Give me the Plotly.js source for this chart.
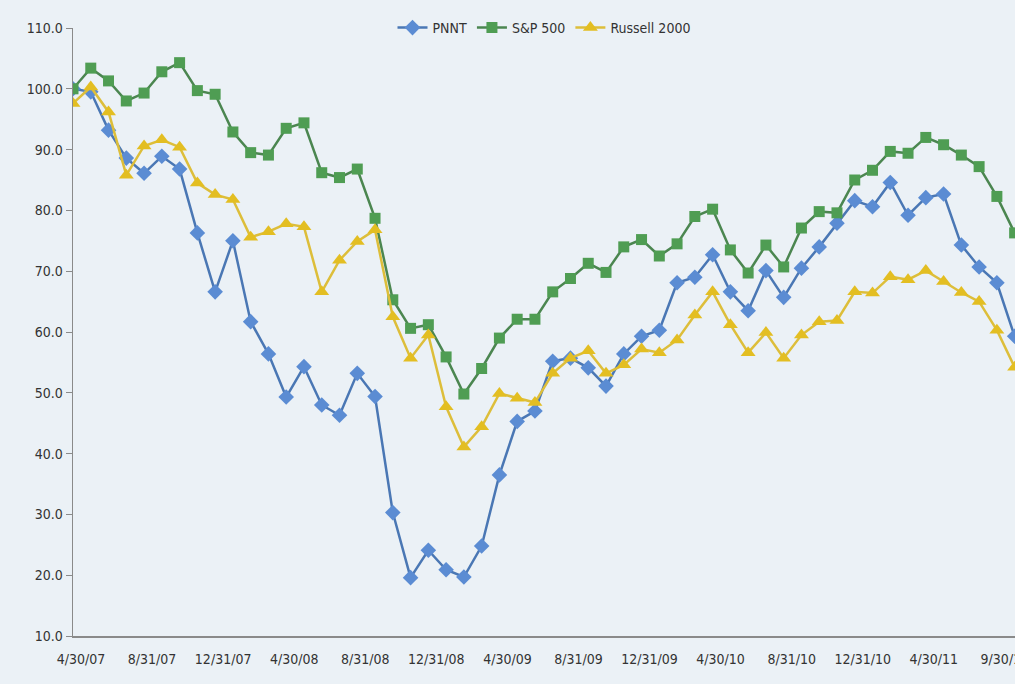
<!DOCTYPE html>
<html>
<head>
<meta charset="utf-8">
<script src="https://cdn.plot.ly/plotly-3.0.1.min.js"></script>
<style>
  html, body { margin: 0; padding: 0; background: #EBF1F6; }
  #chart { width: 1015px; height: 684px; }
</style>
</head>
<body>
<div id="chart"></div>
<script>
// Month-end dates (categories)
const dates = [
  "4/30/07","5/31/07","6/30/07","7/31/07","8/31/07","9/30/07","10/31/07","11/30/07",
  "12/31/07","1/31/08","2/29/08","3/31/08","4/30/08","5/31/08","6/30/08","7/31/08",
  "8/31/08","9/30/08","10/31/08","11/30/08","12/31/08","1/31/09","2/28/09","3/31/09",
  "4/30/09","5/31/09","6/30/09","7/31/09","8/31/09","9/30/09","10/31/09","11/30/09",
  "12/31/09","1/31/10","2/28/10","3/31/10","4/30/10","5/31/10","6/30/10","7/31/10",
  "8/31/10","9/30/10","10/31/10","11/30/10","12/31/10","1/31/11","2/28/11","3/31/11",
  "4/30/11","5/31/11","6/30/11","8/31/11","9/30/11","10/31/11"
];
const tickLabels = ["4/30/07","8/31/07","12/31/07","4/30/08","8/31/08","12/31/08","4/30/09",
  "8/31/09","12/31/09","4/30/10","8/31/10","12/31/10","4/30/11","9/30/11"];

const pnnt = [100.0, 99.5, 93.2, 88.6, 86.1, 88.9, 86.8, 76.3, 66.6, 75.0, 61.7, 56.4,
  49.3, 54.3, 48.0, 46.3, 53.2, 49.4, 30.3, 19.6, 24.1, 20.9, 19.7, 24.8,
  36.5, 45.3, 47.0, 55.2, 55.7, 54.1, 51.1, 56.4, 59.3, 60.3, 68.1, 69.0,
  72.7, 66.6, 63.5, 70.1, 65.7, 70.5, 74.0, 77.9, 81.6, 80.6, 84.6, 79.2,
  82.1, 82.7, 74.3, 70.7, 68.1, 59.3];
const sp500 = [100.0, 103.4, 101.3, 98.0, 99.3, 102.8, 104.3, 99.7, 99.1, 92.9, 89.5, 89.1,
  93.5, 94.4, 86.2, 85.4, 86.8, 78.7, 65.3, 60.6, 61.2, 55.9, 49.8, 54.0,
  59.0, 62.1, 62.1, 66.6, 68.8, 71.3, 69.8, 74.0, 75.2, 72.5, 74.5, 79.0,
  80.2, 73.5, 69.7, 74.3, 70.7, 77.1, 79.8, 79.6, 85.0, 86.6, 89.7, 89.4,
  92.0, 90.8, 89.1, 87.2, 82.3, 76.3];
const russell = [97.6, 100.3, 96.2, 85.8, 90.6, 91.6, 90.4, 84.5, 82.6, 81.8, 75.6, 76.5,
  77.8, 77.3, 66.6, 71.8, 74.9, 76.8, 62.5, 55.7, 59.5, 47.7, 41.1, 44.4,
  49.9, 49.1, 48.4, 53.2, 55.7, 56.9, 53.2, 54.6, 57.2, 56.6, 58.7, 62.8,
  66.6, 61.2, 56.6, 59.9, 55.7, 59.5, 61.7, 61.9, 66.6, 66.4, 69.1, 68.6,
  70.1, 68.3, 66.5, 65.0, 60.3, 54.2];

const FONT = "Liberation Sans Narrow, Arial Narrow, DejaVu Sans Condensed, sans-serif";

const traces = [
  {name: "PNNT", x: dates, y: pnnt, type: "scatter", mode: "lines+markers",
   line: {color: "#4A77B4", width: 2.5},
   marker: {symbol: "diamond", size: 12, color: "#5B8CD3", line: {width: 0}}},
  {name: "S&P 500", x: dates, y: sp500, type: "scatter", mode: "lines+markers",
   line: {color: "#4B8650", width: 2.5},
   marker: {symbol: "square", size: 11, color: "#4F9D53", line: {width: 0}}},
  {name: "Russell 2000", x: dates, y: russell, type: "scatter", mode: "lines+markers",
   line: {color: "#DDBE3A", width: 2.5},
   marker: {symbol: "triangle-up", size: 13, color: "#E3BE22", line: {width: 0}}}
];

const layout = {
  width: 1015, height: 684,
  paper_bgcolor: "#EBF1F6", plot_bgcolor: "#EBF1F6",
  margin: {l: 73, r: 0, t: 28, b: 48},
  font: {family: FONT, size: 14, color: "#333333"},
  showlegend: true,
  legend: {orientation: "h", x: 0.5, xanchor: "center", y: 1, yanchor: "middle",
           bgcolor: "rgba(0,0,0,0)", font: {family: FONT, size: 14, color: "#333333"},
           itemwidth: 30, tracegroupgap: 0},
  xaxis: {type: "category", range: [0, 53.02], showgrid: false, zeroline: false,
          showline: true, linecolor: "#8A8A8A", linewidth: 1.5,
          tickmode: "array", tickvals: tickLabels, ticktext: tickLabels,
          ticks: "outside", ticklen: 10, tickcolor: "rgba(0,0,0,0)",
          ticklabelshift: 8,
          tickfont: {family: FONT, size: 14, color: "#333333"}},
  yaxis: {range: [10, 110], dtick: 10, tick0: 10, tickformat: ".1f", showgrid: false,
          zeroline: false, showline: true, linecolor: "#8A8A8A", linewidth: 1.5,
          ticks: "outside", ticklen: 6, tickcolor: "#8A8A8A",
          tickfont: {family: FONT, size: 14, color: "#333333"}}
};

Plotly.newPlot("chart", traces, layout, {displayModeBar: false, staticPlot: true});
</script>
</body>
</html>
